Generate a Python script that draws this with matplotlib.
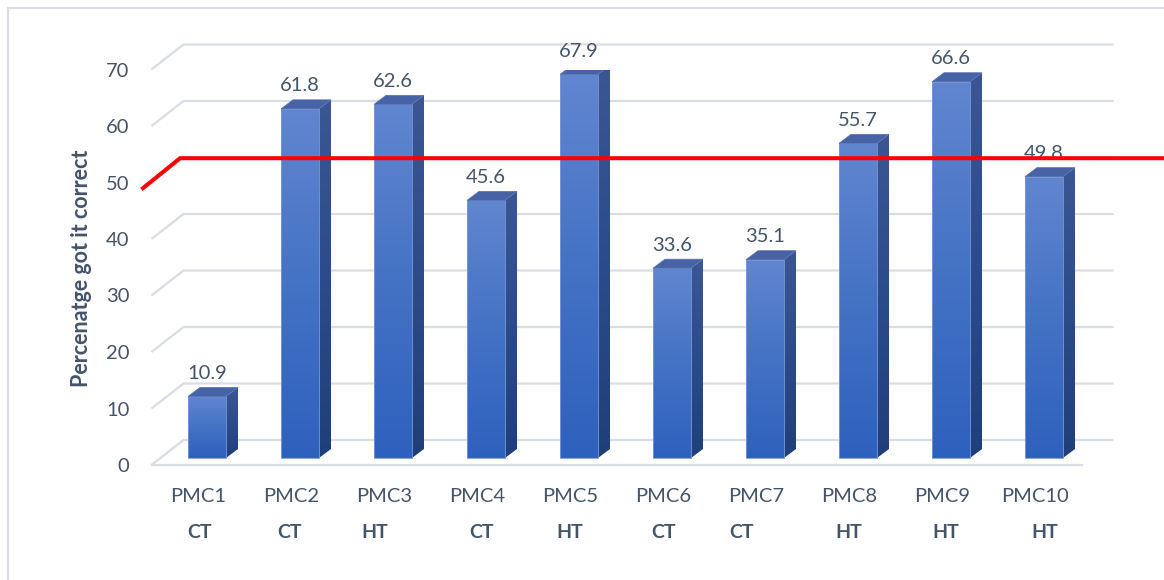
import numpy as np
import matplotlib
matplotlib.use("Agg")
from matplotlib import pyplot as plt
from matplotlib.patches import Polygon
from matplotlib.colors import LinearSegmentedColormap

# data
samples = ["PMC1", "PMC2", "PMC3", "PMC4", "PMC5", "PMC6", "PMC7", "PMC8", "PMC9", "PMC10"]
groups = ["CT", "CT", "HT", "CT", "HT", "CT", "CT", "HT", "HT", "HT"]
pct_correct = [10.9, 61.8, 62.6, 45.6, 67.9, 33.6, 35.1, 55.7, 66.6, 49.8]
yticks = [0, 10, 20, 30, 40, 50, 60, 70]
cutoff = 54.3

TEXT = "#44546A"
GRID = "#D9DDE4"
FONT = "Lato"

W, H = 1164, 580
PX_X = 93.0      # pixels per category
PX_Y = 5.65      # pixels per percent

# oblique offsets (pixels -> data units)
BACK = (32 / PX_X, 25 / PX_Y)
BAR_POS = (9 / PX_X, 7 / PX_Y)
BAR_DEPTH = (12 / PX_X, 9 / PX_Y)
BAR_W = 38 / PX_X

# small horizontal nudges of the group tags, in pixels
tag_shift = [1, -2, -9, 5, 0, 0, -14, 0, 4, 10]

front_cmap = LinearSegmentedColormap.from_list("front", ["#2E61BE", "#4472C4", "#6186D0"])
side_cmap = LinearSegmentedColormap.from_list("side", ["#1F3F7A", "#2C4B8A", "#3A5793"])


def gradient_fill(ax, x0, x1, y0, y1, cmap, clip=None):
    grad = np.linspace(0, 1, 256).reshape(-1, 1)
    im = ax.imshow(grad, cmap=cmap, extent=(x0, x1, y0, y1), origin="lower",
                   aspect="auto", interpolation="bicubic", zorder=3)
    if clip is not None:
        ax.add_patch(clip)
        im.set_clip_path(clip)
    return im


def draw_bar(ax, i, v):
    x0 = i + BAR_POS[0] - BAR_W / 2
    x1 = x0 + BAR_W
    y0 = BAR_POS[1]
    y1 = y0 + v
    dx, dy = BAR_DEPTH
    # front face
    gradient_fill(ax, x0, x1, y0, y1, front_cmap)
    ax.add_patch(Polygon([(x0, y0), (x1, y0), (x1, y1), (x0, y1)], closed=True,
                         fill=False, ec="#7E9ADA", lw=0.6, zorder=4))
    # side face
    side = Polygon([(x1, y0), (x1 + dx, y0 + dy), (x1 + dx, y1 + dy), (x1, y1)],
                   closed=True, fc="none", ec="none", zorder=3)
    gradient_fill(ax, x1, x1 + dx, y0, y1 + dy, side_cmap, clip=side)
    # top face
    ax.add_patch(Polygon([(x0, y1), (x1, y1), (x1 + dx, y1 + dy), (x0 + dx, y1 + dy)],
                         closed=True, fc="#4863A5", ec="#5A74B3", lw=0.5, zorder=4))


def main():
    fig = plt.figure(figsize=(W / 100, H / 100), dpi=100)
    left, right = 151.5, 1081.5
    top, bottom = 69.5, 465.0
    ax = fig.add_axes([left / W, (H - bottom) / H, (right - left) / W, (bottom - top) / H])
    ax.set_xlim(-0.5, len(samples) - 0.5)
    ax.set_ylim(0, 70)
    for s in ax.spines.values():
        s.set_visible(False)
    ax.set_xticks([])
    ax.set_yticks(yticks)
    ax.set_yticklabels([str(t) for t in yticks], fontsize=14.5, color=TEXT, family=FONT)
    ax.tick_params(axis="y", length=0, pad=16)
    ax.patch.set_alpha(0)

    # back wall gridlines with their slanted ends
    xl, xr = -0.5, len(samples) - 0.5
    for t in yticks:
        ax.plot([xl, xl + BACK[0], xr + BACK[0]], [t, t + BACK[1], t + BACK[1]],
                color=GRID, lw=1.6, clip_on=False, zorder=1, solid_capstyle="butt")
    ax.plot([xl, xr], [0, 0], color=GRID, lw=1.6, clip_on=False, zorder=1)

    for i, v in enumerate(pct_correct):
        draw_bar(ax, i, v)
        top_y = BAR_POS[1] + v + BAR_DEPTH[1]
        ax.text(i + BAR_POS[0], top_y + 1.5, f"{v:.1f}", ha="center", va="baseline",
                fontsize=14.5, color=TEXT, family=FONT, zorder=5, clip_on=False)

    # category labels and group tags under the floor
    for i, (name, grp) in enumerate(zip(samples, groups)):
        ax.text(i, -31 / PX_Y, name, ha="center", va="center", fontsize=14.5,
                color=TEXT, family=FONT, clip_on=False)
        ax.text(i + tag_shift[i] / PX_X, -68 / PX_Y, grp, ha="center", va="center",
                fontsize=14, fontweight="bold", color=TEXT, family=FONT, clip_on=False)

    ax.set_xlim(xl, xr)
    ax.set_ylim(0, 70)

    # pass mark line
    ax.plot([(143 - 198) / PX_X, (180 - 198) / PX_X, (W - 198) / PX_X],
            [cutoff - 5.3, cutoff, cutoff], color="#FF0000", lw=2.9,
            clip_on=False, zorder=10, solid_joinstyle="miter")

    fig.text(82 / W, 1 - 268 / H, "Percenatge got it correct", rotation=90,
             ha="center", va="center", fontsize=15.5, fontweight="bold",
             color=TEXT, family=FONT)

    # chart area border
    fig.add_artist(plt.Line2D([7.5 / W, 1], [1 - 8 / H, 1 - 8 / H], color="#D9DDE4", lw=1.5))
    fig.add_artist(plt.Line2D([7.5 / W, 7.5 / W], [0, 1 - 8 / H], color="#D9DDE4", lw=1.5))

    fig.savefig("out.png", dpi=100)


if __name__ == "__main__":
    main()
